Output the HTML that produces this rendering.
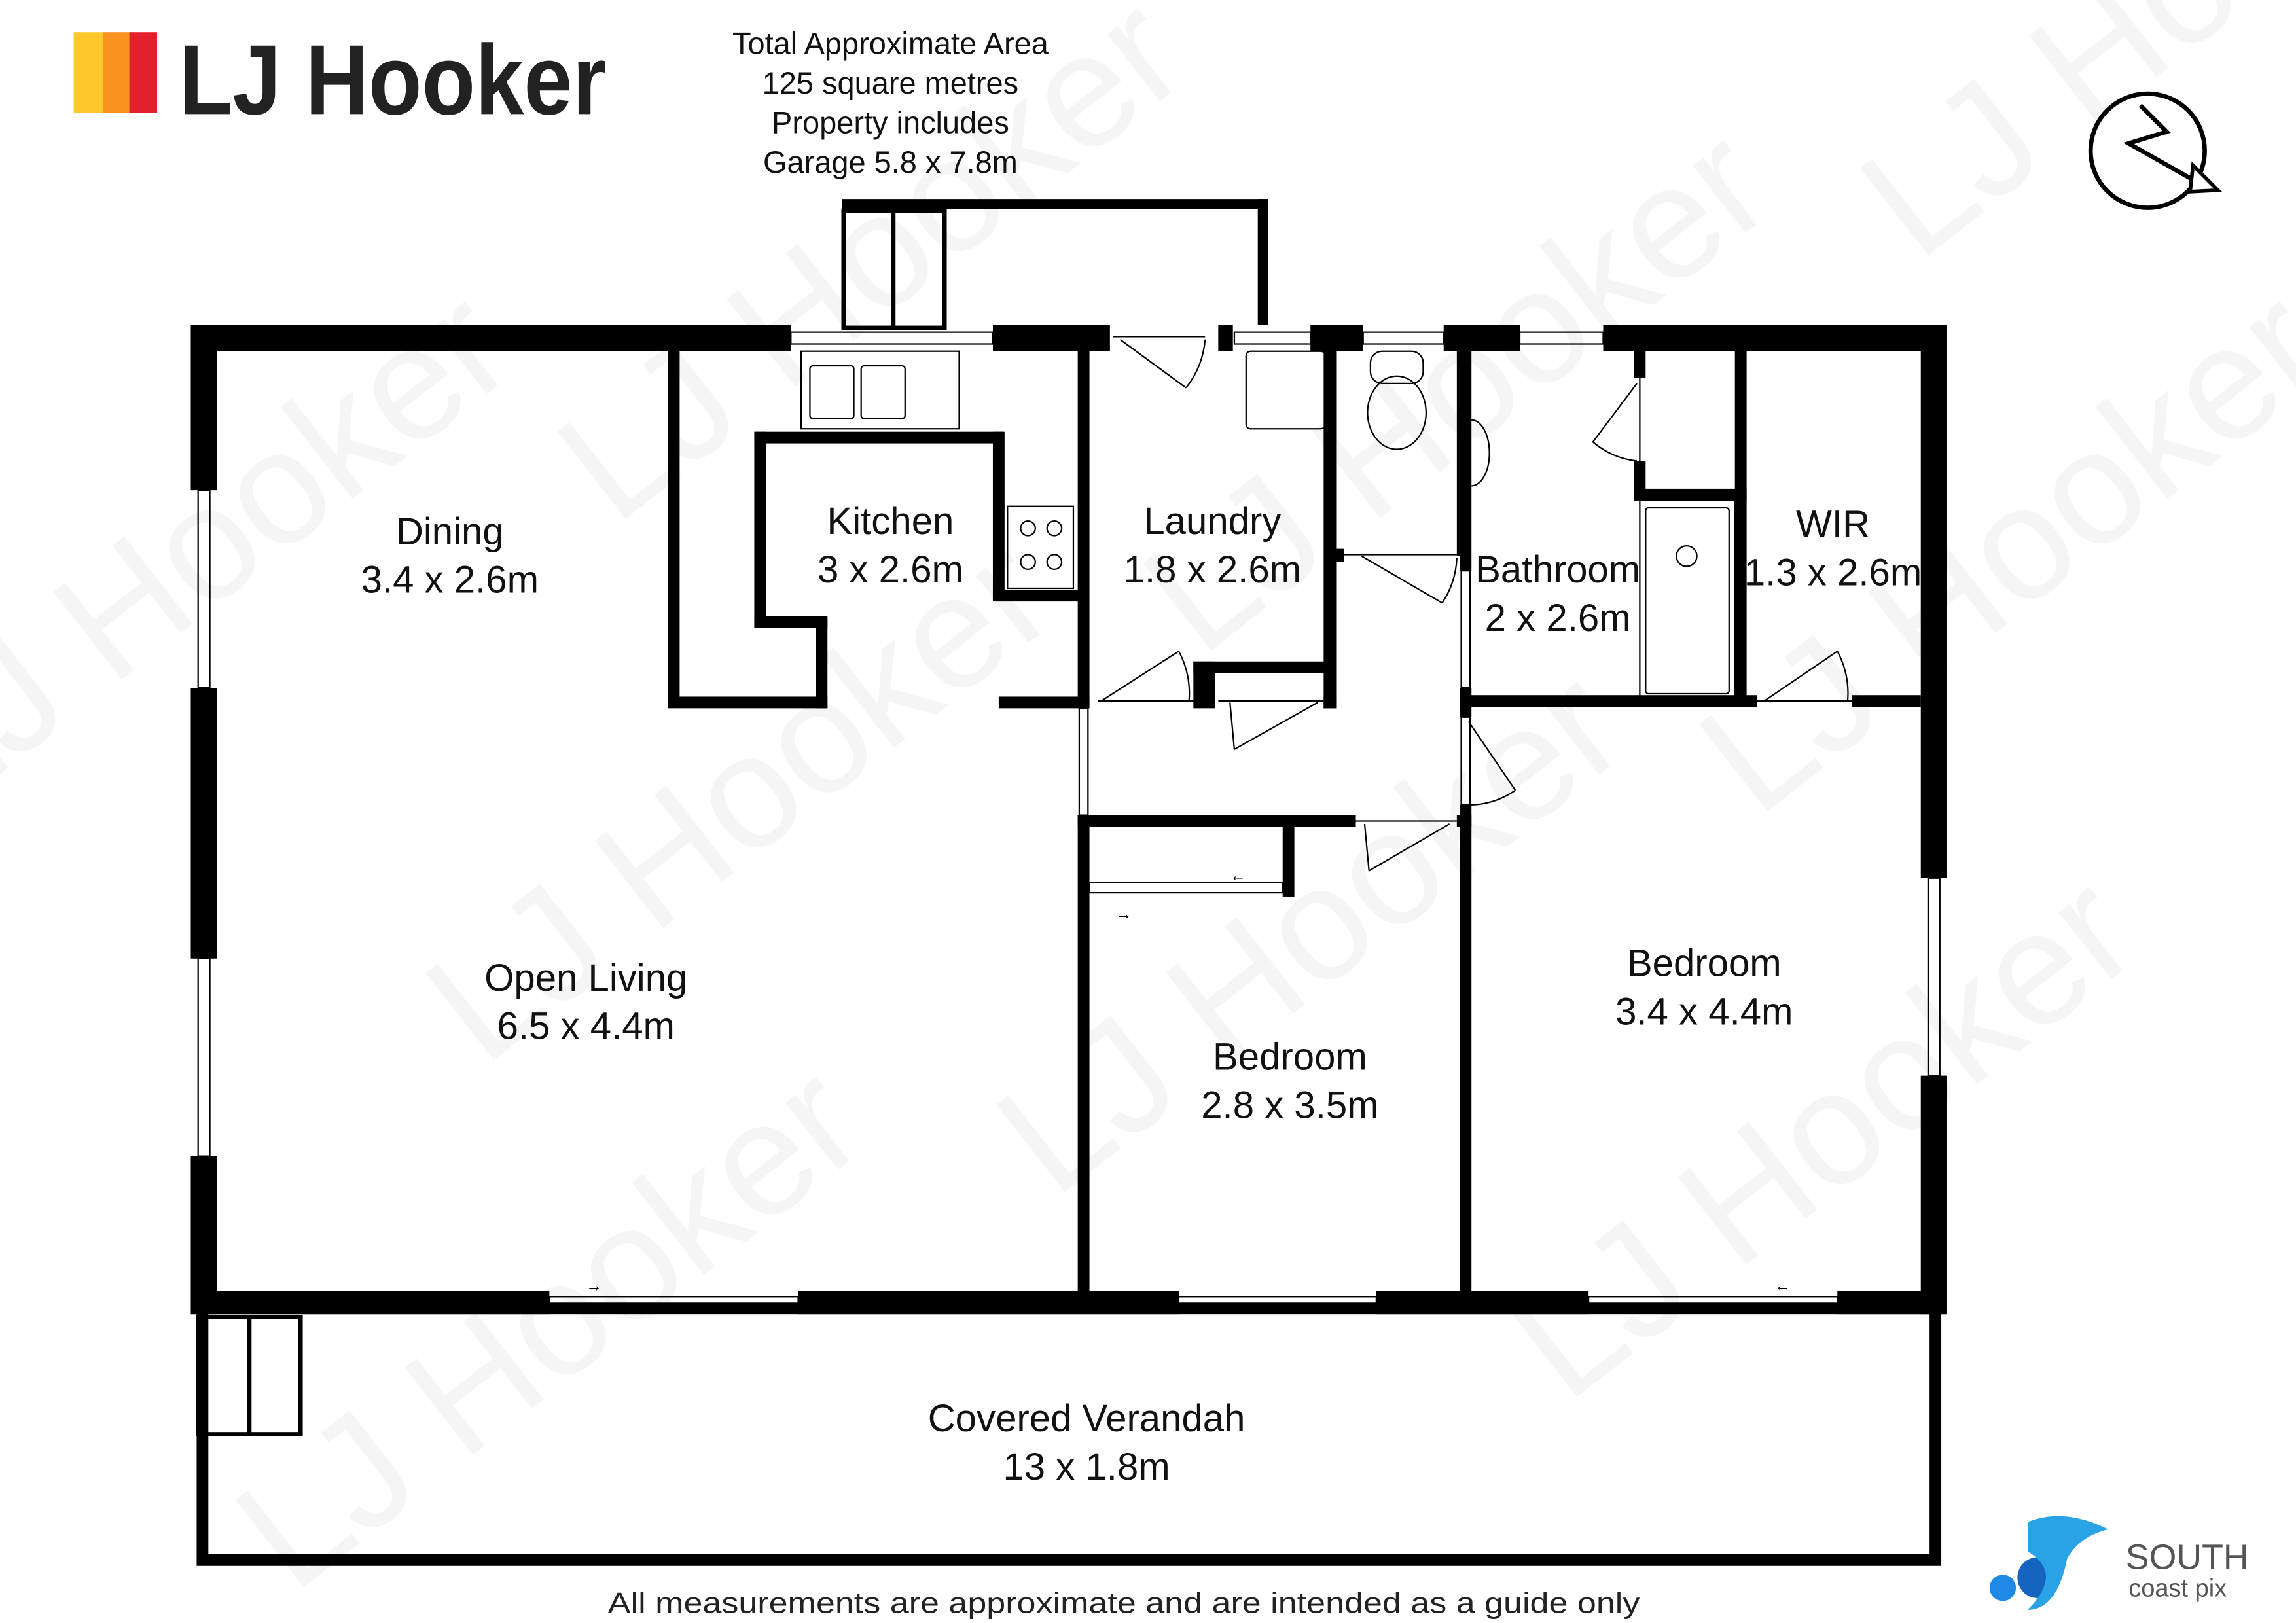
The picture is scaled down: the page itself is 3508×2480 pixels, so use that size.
<!DOCTYPE html>
<html><head><style>html,body{margin:0;padding:0;background:#fff}svg{display:block}</style></head>
<body>
<svg width="3508" height="2480" viewBox="0 0 1568 1109" xmlns="http://www.w3.org/2000/svg" font-family="'Liberation Sans', sans-serif">
<rect width="1568" height="1109" fill="#fff"/>
<!-- watermarks -->
<g fill="#000" opacity="0.035" font-size="110">
<text transform="translate(420,360) rotate(-38)">LJ Hooker</text>
<text transform="translate(330,730) rotate(-38)">LJ Hooker</text>
<text transform="translate(720,820) rotate(-38)">LJ Hooker</text>
<text transform="translate(1070,960) rotate(-38)">LJ Hooker</text>
<text transform="translate(1200,560) rotate(-38)">LJ Hooker</text>
<text transform="translate(820,450) rotate(-38)">LJ Hooker</text>
<text transform="translate(1310,180) rotate(-38)">LJ Hooker</text>
<text transform="translate(200,1090) rotate(-38)">LJ Hooker</text>
<text transform="translate(-40,560) rotate(-38)">LJ Hooker</text>
</g>
<!-- logo -->
<rect x="50" y="22" width="20" height="55" fill="#ffc72c"/>
<rect x="70" y="22" width="18" height="55" fill="#f7931e"/>
<rect x="88" y="22" width="19" height="55" fill="#e4202a"/>
<text x="122" y="78" font-size="68" font-weight="bold" fill="#222" textLength="292" lengthAdjust="spacingAndGlyphs">LJ Hooker</text>
<g font-size="21" fill="#111" text-anchor="middle">
<text x="608" y="37">Total Approximate Area</text>
<text x="608" y="64">125 square metres</text>
<text x="608" y="91">Property includes</text>
<text x="608" y="118">Garage 5.8 x 7.8m</text>
</g>
<!-- compass -->
<circle cx="1467" cy="103" r="39" fill="none" stroke="#000" stroke-width="3"/>
<polyline points="1462,72 1480,90 1454,98 1500,124" fill="none" stroke="#000" stroke-width="3"/>
<polygon points="1498,113 1515,130 1496,131" fill="#fff" stroke="#000" stroke-width="2.5"/>
<!-- garage link -->
<g fill="#000">
<rect x="575" y="136" width="291" height="7"/>
<rect x="859" y="136" width="7" height="86"/>
</g>
<g fill="none" stroke="#000" stroke-width="3">
<rect x="576" y="144" width="69" height="80"/>
<line x1="610" y1="144" x2="610" y2="224"/>
</g>
<!-- outer walls -->
<g fill="#000">
<rect x="130" y="222" width="410" height="18"/>
<rect x="678" y="222" width="80" height="18"/>
<rect x="832" y="222" width="10" height="18"/>
<rect x="895" y="222" width="36" height="18"/>
<rect x="986" y="222" width="52" height="18"/>
<rect x="1095" y="222" width="235" height="18"/>
<rect x="130" y="222" width="18" height="113"/>
<rect x="130" y="470" width="18" height="185"/>
<rect x="130" y="790" width="18" height="108"/>
<rect x="130" y="882" width="245" height="16"/>
<rect x="545" y="882" width="260" height="16"/>
<rect x="940" y="882" width="145" height="16"/>
<rect x="1255" y="882" width="75" height="16"/>
<rect x="1312" y="222" width="18" height="378"/>
<rect x="1312" y="735" width="18" height="163"/>
<!-- interior -->
<rect x="456" y="240" width="8" height="243"/>
<rect x="456" y="476" width="109" height="8"/>
<rect x="557" y="422" width="8" height="62"/>
<rect x="515" y="421" width="50" height="8"/>
<rect x="515" y="295" width="8" height="134"/>
<rect x="515" y="295" width="170" height="8"/>
<rect x="678" y="295" width="8" height="115"/>
<rect x="678" y="403" width="60" height="8"/>
<rect x="736" y="222" width="8" height="262"/>
<rect x="682" y="476" width="62" height="8"/>
<rect x="815" y="452" width="15" height="32"/>
<rect x="815" y="452" width="97" height="8"/>
<rect x="904" y="222" width="9" height="262"/>
<rect x="904" y="476" width="9" height="8"/>
<rect x="995" y="222" width="10" height="158"/>
<rect x="912" y="375" width="6" height="9"/>
<rect x="997" y="380" width="8" height="10"/>
<rect x="1000" y="475" width="200" height="8"/>
<rect x="1265" y="475" width="47" height="8"/>
<rect x="1116" y="240" width="8" height="18"/>
<rect x="1116" y="315" width="8" height="27"/>
<rect x="1116" y="334" width="77" height="8"/>
<rect x="1185" y="240" width="8" height="243"/>
<rect x="997" y="470" width="8" height="20"/>
<rect x="736" y="557" width="190" height="8"/>
<rect x="995" y="557" width="10" height="8"/>
<rect x="736" y="557" width="8" height="333"/>
<rect x="997" y="550" width="8" height="340"/>
<rect x="876" y="565" width="8" height="48"/>
</g>
<!-- windows -->
<g fill="none" stroke="#000" stroke-width="1">
<rect x="540" y="227" width="138" height="8"/>
<rect x="843" y="227" width="52" height="8"/>
<rect x="931" y="227" width="55" height="8"/>
<rect x="1038" y="227" width="57" height="8"/>
<rect x="135" y="335" width="8" height="135"/>
<rect x="135" y="655" width="8" height="135"/>
<rect x="375" y="886" width="170" height="8"/>
<rect x="805" y="886" width="135" height="8"/>
<rect x="1085" y="886" width="170" height="8"/>
<rect x="1317" y="600" width="8" height="135"/>
<rect x="737" y="484" width="6" height="73"/>
<rect x="998" y="390" width="6" height="80"/>
<rect x="998" y="490" width="6" height="60"/>
<rect x="744" y="603" width="132" height="7"/>
<!-- doors -->
<path d="M760,230 L823,230 M765,232 L810,265 M810,265 A60,60 0 0 0 823,232"/>
<path d="M918,379 L995,379 M930,380 L985,412 M985,412 A60,60 0 0 0 995,381"/>
<path d="M1120,258 L1120,315 M1118,262 L1088,302 M1088,302 A55,55 0 0 0 1118,315"/>
<path d="M750,479 L815,479 M752,479 L805,445 M805,445 A60,60 0 0 1 812,479"/>
<path d="M832,479 L904,479 M840,480 L843,512 M843,512 L900,480"/>
<path d="M1200,479 L1265,479 M1205,479 L1255,445 M1255,445 A60,60 0 0 1 1262,479"/>
<path d="M925,561 L995,561 M932,563 L935,595 M935,595 L990,563"/>
<path d="M1003,493 L1035,540 M1035,540 A55,55 0 0 1 1004,550"/>
<!-- kitchen -->
<rect x="547" y="240" width="108" height="53"/>
<rect x="553" y="250" width="30" height="36" rx="2"/>
<rect x="588" y="250" width="30" height="36" rx="2"/>
<rect x="688" y="346" width="45" height="56"/>
<circle cx="702" cy="361" r="5"/><circle cx="720" cy="361" r="5"/>
<circle cx="702" cy="384" r="5"/><circle cx="720" cy="384" r="5"/>
<!-- laundry tub -->
<rect x="851" y="240" width="54" height="53" rx="3"/>
<!-- toilet -->
<rect x="936" y="240" width="36" height="22" rx="8"/>
<ellipse cx="954" cy="282" rx="20" ry="25"/>
<path d="M1005,287 A12,22 0 0 1 1005,332"/>
<!-- shower -->
<rect x="1120" y="342" width="65" height="136"/>
<rect x="1124" y="347" width="57" height="127" rx="2"/>
<circle cx="1152" cy="380" r="7"/>
<!-- verandah -->
<rect x="138" y="894" width="1184" height="172" stroke-width="8"/>
<rect x="135" y="900" width="70" height="80" stroke-width="3"/>
<line x1="170" y1="900" x2="170" y2="980" stroke-width="3"/>
</g>
<g font-size="11" fill="#000">
<text x="400" y="882">→</text><text x="762" y="628">→</text><text x="840" y="602">←</text><text x="1212" y="882">←</text>
</g>
<!-- labels -->
<g font-size="26" fill="#111" text-anchor="middle">
<text x="307" y="372">Dining</text><text x="307" y="405">3.4 x 2.6m</text>
<text x="608" y="365">Kitchen</text><text x="608" y="398">3 x 2.6m</text>
<text x="828" y="365">Laundry</text><text x="828" y="398">1.8 x 2.6m</text>
<text x="1064" y="398">Bathroom</text><text x="1064" y="431">2 x 2.6m</text>
<text x="1252" y="367">WIR</text><text x="1252" y="400">1.3 x 2.6m</text>
<text x="400" y="677">Open Living</text><text x="400" y="710">6.5 x 4.4m</text>
<text x="881" y="731">Bedroom</text><text x="881" y="764">2.8 x 3.5m</text>
<text x="1164" y="667">Bedroom</text><text x="1164" y="700">3.4 x 4.4m</text>
<text x="742" y="978">Covered Verandah</text><text x="742" y="1011">13 x 1.8m</text>
</g>
<text x="415" y="1102" font-size="20" fill="#222" textLength="705" lengthAdjust="spacingAndGlyphs">All measurements are approximate and are intended as a guide only</text>
<!-- south coast pix -->
<circle cx="1368" cy="1085" r="9" fill="#1e88e5"/>
<circle cx="1392" cy="1078" r="14" fill="#1565c0"/>
<path d="M1385,1040 Q1410,1030 1440,1045 Q1420,1050 1412,1065 Q1405,1100 1385,1100 Q1410,1075 1385,1060 Z" fill="#29a3e6"/>
<text x="1452" y="1072" font-size="24" fill="#555">SOUTH</text>
<text x="1454" y="1091" font-size="17" fill="#555">coast pix</text>
</svg>
</body></html>
